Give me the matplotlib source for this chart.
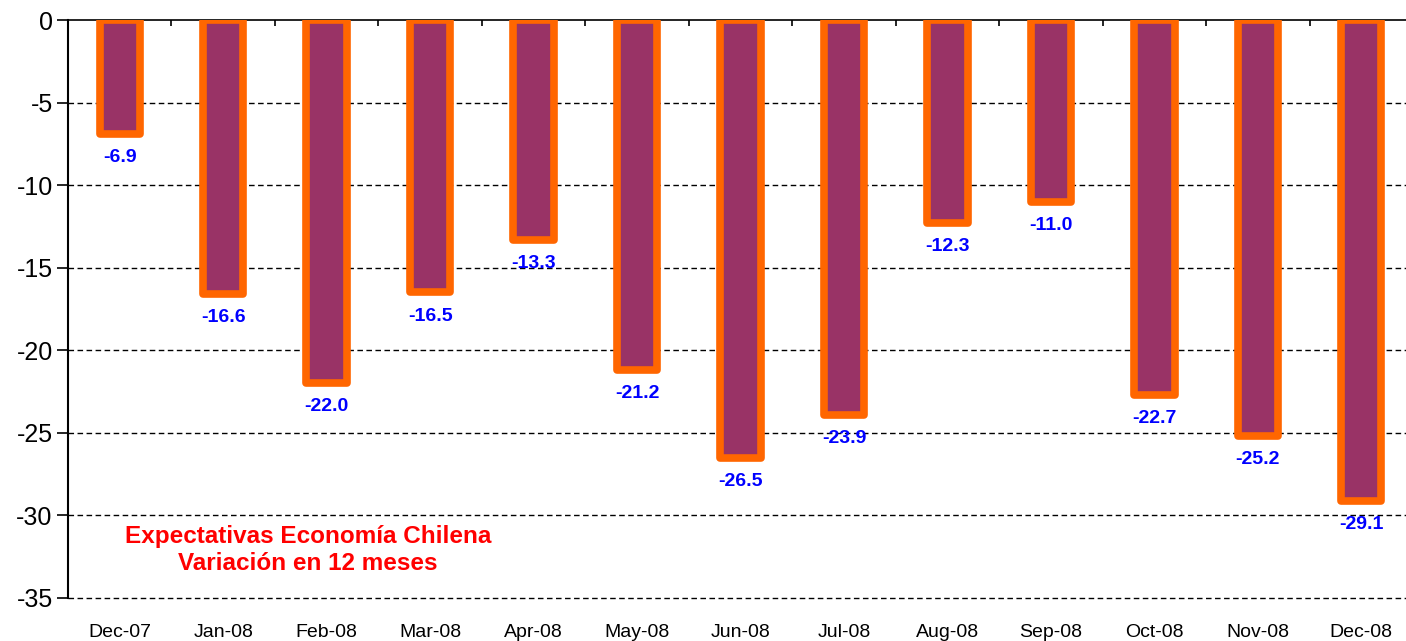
import matplotlib
matplotlib.use('Agg')
import matplotlib.pyplot as plt
import numpy as np

months = ['Dec-07', 'Jan-08', 'Feb-08', 'Mar-08', 'Apr-08', 'May-08', 'Jun-08',
          'Jul-08', 'Aug-08', 'Sep-08', 'Oct-08', 'Nov-08', 'Dec-08']
values = [-6.9, -16.6, -22.0, -16.5, -13.3, -21.2, -26.5,
          -23.9, -12.3, -11.0, -22.7, -25.2, -29.1]
yticks = [0, -5, -10, -15, -20, -25, -30, -35]

plt.rcParams['font.family'] = ['Liberation Sans', 'DejaVu Sans']

fig = plt.figure(figsize=(14.06, 6.41), dpi=100)
ax = fig.add_axes([68 / 1406, 43 / 641, 1345 / 1406, 578 / 641])

x = np.arange(len(months))
ax.bar(x, values, width=0.39, color='#993366', edgecolor='#FF6600',
       linewidth=5.5, joinstyle='round', zorder=3)

for xi, v in zip(x, values):
    ax.annotate(f'{v:.1f}', (xi, v), xytext=(0, -17), textcoords='offset points',
                ha='center', va='center', color='#0000FF', fontsize=14,
                fontweight='bold', zorder=4)

ax.set_xlim(-0.5, len(months) - 0.5)
ax.set_ylim(-35, 0)

# dashed gridlines
for yv in yticks[1:]:
    ax.axhline(yv, color='black', linestyle=(0, (4, 2.5)), linewidth=1,
               zorder=1, clip_on=False)

ax.set_yticks(yticks)
ax.set_yticklabels([str(t) for t in yticks], fontsize=18)
ax.tick_params(axis='y', direction='out', length=8, width=1.2, pad=3)

ax.set_xticks(x)
ax.set_xticklabels(months, fontsize=14)
ax.tick_params(axis='x', which='major', length=0, pad=19)
ax.set_xticks(np.arange(-0.5, len(months), 1), minor=True)
ax.tick_params(axis='x', which='minor', bottom=False, top=True, direction='in',
               length=4, width=1.2)

ax.spines['bottom'].set_visible(False)
ax.spines['right'].set_visible(False)
ax.spines['top'].set_linewidth(1.2)
ax.spines['left'].set_linewidth(1.5)

ax.text(1.82, -32.1, 'Expectativas Economía Chilena\nVariación en 12 meses',
        ha='center', va='center', color='#FF0000', fontsize=17.5,
        fontweight='bold', linespacing=1.2, zorder=4)

fig.savefig('out.png', dpi=100)
